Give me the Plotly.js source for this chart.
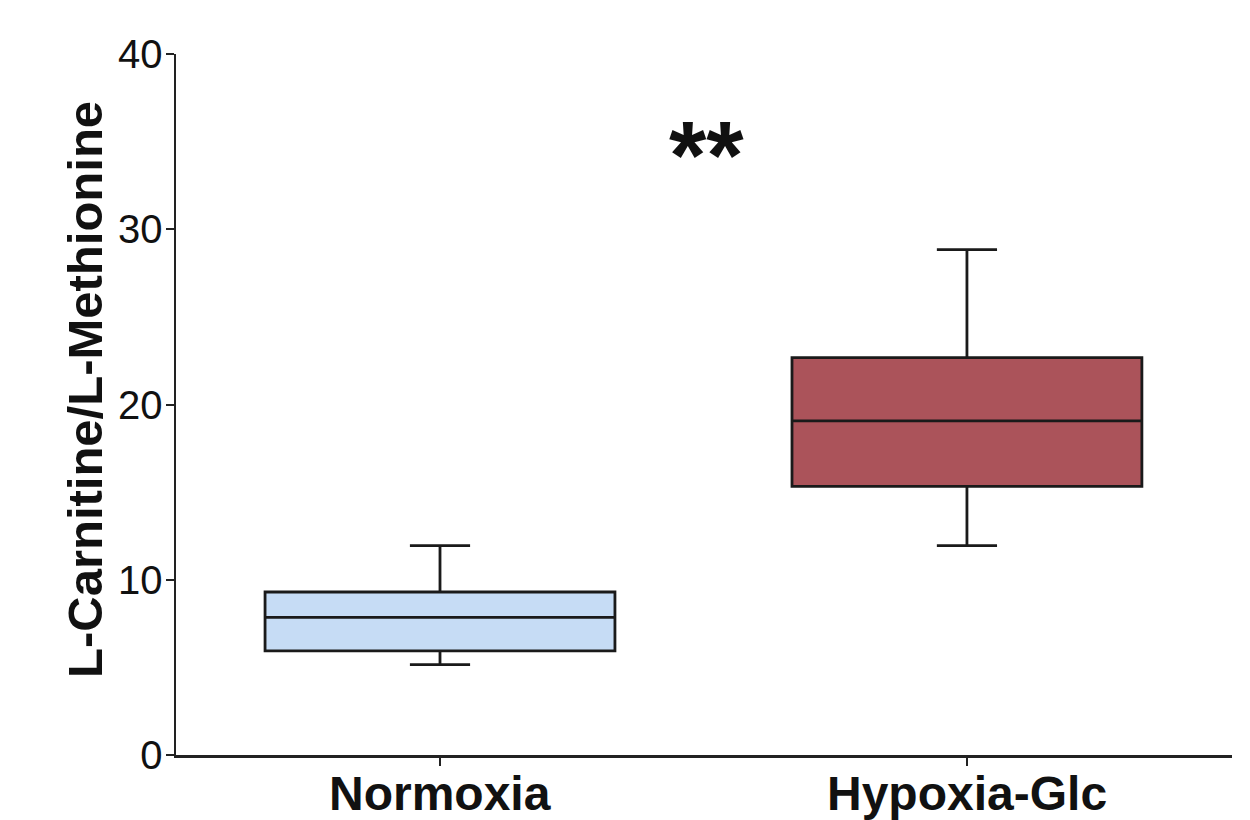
<!DOCTYPE html>
<html>
<head>
<meta charset="utf-8">
<script src="https://cdn.plot.ly/plotly-3.0.1.min.js"></script>
<style>html,body{margin:0;padding:0;background:#fff;}#chart{width:1250px;height:820px;}</style>
</head>
<body>
<div id="chart"></div>
<script>
// Categories and box statistics
const categories = ["Normoxia", "Hypoxia-Glc"];
const lowerWhisker = [5.16, 11.95];
const q1Values = [5.94, 15.33];
const medianValues = [7.85, 19.07];
const q3Values = [9.3, 22.67];
const upperWhisker = [11.95, 28.84];
const boxColors = ["#c6dcf5", "#ab535a"];
const yTickValues = [0, 10, 20, 30, 40];
const yTitle = "L-Carnitine/L-Methionine";
const significanceLabel = "**";

const FONT = "Liberation Sans, Arial, sans-serif";

const traces = categories.map((cat, i) => ({
  type: "box",
  x: [cat],
  q1: [q1Values[i]],
  median: [medianValues[i]],
  q3: [q3Values[i]],
  lowerfence: [lowerWhisker[i]],
  upperfence: [upperWhisker[i]],
  width: 0.664,
  whiskerwidth: 0.172,
  fillcolor: boxColors[i],
  line: {color: "#1a1a1a", width: 2.8},
  boxpoints: false,
  showlegend: false,
  hoverinfo: "skip"
}));

// category labels drawn as annotations under the axis
const catLabels = categories.map(cat => ({
  x: cat,
  y: 0,
  xref: "x",
  yref: "paper",
  text: "<b>" + cat + "</b>",
  showarrow: false,
  xanchor: "center",
  yanchor: "top",
  yshift: -10,
  font: {family: FONT, size: 48, color: "#111"}
}));

const layout = {
  width: 1250,
  height: 820,
  margin: {l: 176, r: 18, t: 54, b: 65},
  paper_bgcolor: "#ffffff",
  plot_bgcolor: "#ffffff",
  boxmode: "overlay",
  font: {family: FONT, color: "#111"},
  xaxis: {
    type: "category",
    categoryorder: "array",
    categoryarray: categories,
    range: [-0.501, 1.503],
    showline: true,
    linecolor: "#222",
    linewidth: 2.5,
    ticks: "outside",
    ticklen: 8,
    tickwidth: 2,
    tickcolor: "#222",
    showgrid: false,
    zeroline: false,
    automargin: false,
    showticklabels: false
  },
  yaxis: {
    range: [0, 40],
    tickvals: yTickValues,
    ticktext: yTickValues.map(String),
    showline: true,
    linecolor: "#222",
    linewidth: 2.5,
    ticks: "outside",
    ticklen: 8,
    tickwidth: 2,
    tickcolor: "#222",
    showgrid: false,
    zeroline: false,
    automargin: false,
    ticklabelstandoff: -5,
    tickfont: {family: FONT, size: 40, color: "#111"}
  },
  annotations: catLabels.concat([
    {
      x: 0,
      y: 0.5207,
      xref: "paper",
      yref: "paper",
      xshift: -91,
      text: "<b>" + yTitle + "</b>",
      textangle: -90,
      showarrow: false,
      xanchor: "center",
      yanchor: "middle",
      font: {family: FONT, size: 49, color: "#111"}
    },
    {
      x: 0.505,
      y: 34.25,
      xref: "x",
      yref: "y",
      text: "<b>" + significanceLabel + "</b>",
      showarrow: false,
      font: {family: FONT, size: 96, color: "#111"},
      xanchor: "center",
      yanchor: "middle"
    }
  ])
};

Plotly.newPlot("chart", traces, layout, {staticPlot: true, displayModeBar: false});
</script>
</body>
</html>
